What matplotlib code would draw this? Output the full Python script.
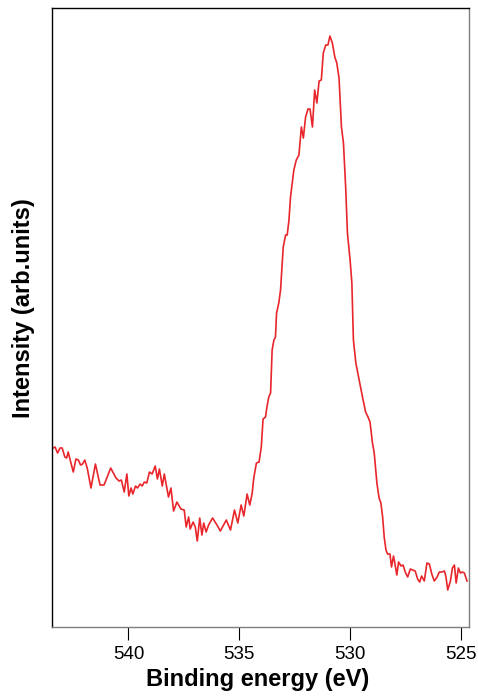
import matplotlib
matplotlib.use("Agg")
import matplotlib.pyplot as plt

# O 1s spectrum
binding_energy = [
    543.41, 543.31, 543.20, 543.09, 542.99, 542.87, 542.79, 542.72, 542.49, 542.37,
    542.26, 542.16, 542.07, 541.97, 541.86, 541.69, 541.49, 541.28, 541.10, 540.80,
    540.56, 540.42, 540.32, 540.19, 540.07, 539.98, 539.88, 539.80, 539.68, 539.59,
    539.47, 539.38, 539.28, 539.17, 539.05, 538.93, 538.79, 538.69, 538.60, 538.47,
    538.38, 538.19, 538.08, 537.96, 537.81, 537.63, 537.48, 537.39, 537.28, 537.21,
    537.08, 536.98, 536.89, 536.78, 536.68, 536.60, 536.49, 536.38, 536.20, 536.00,
    535.85, 535.70, 535.58, 535.39, 535.21, 535.06, 534.91, 534.79, 534.64, 534.52,
    534.41, 534.34, 534.22, 534.10, 534.00, 533.92, 533.81, 533.73, 533.66, 533.58,
    533.51, 533.43, 533.36, 533.31, 533.21, 533.13, 533.01, 532.90, 532.83, 532.75,
    532.68, 532.53, 532.42, 532.30, 532.19, 532.10, 532.00, 531.89, 531.80, 531.69,
    531.59, 531.49, 531.39, 531.29, 531.20, 531.09, 530.99, 530.90, 530.79, 530.68,
    530.59, 530.49, 530.38, 530.29, 530.19, 530.11, 529.99, 529.91, 529.84, 529.73,
    529.58, 529.43, 529.29, 529.18, 529.09, 528.98, 528.90, 528.78, 528.68, 528.60,
    528.52, 528.45, 528.37, 528.30, 528.19, 528.12, 528.03, 527.97, 527.88, 527.80,
    527.69, 527.60, 527.50, 527.39, 527.27, 527.16, 527.05, 526.94, 526.85, 526.76,
    526.64, 526.52, 526.41, 526.30, 526.19, 526.06, 525.96, 525.85, 525.73, 525.66,
    525.58, 525.46, 525.37, 525.28, 525.20, 525.10, 525.01, 524.92, 524.83, 524.71,
]
intensity = [
    179, 180, 174, 179, 179, 170, 169, 175, 155, 168,
    167, 162, 163, 167, 159, 139, 163, 142, 142, 159,
    149, 146, 147, 135, 153, 131, 139, 133, 141, 139,
    143, 141, 145, 144, 155, 153, 161, 148, 158, 141,
    153, 130, 139, 116, 125, 118, 117, 100, 110, 98,
    105, 100, 86, 109, 92, 104, 95, 102, 109, 102,
    96, 102, 107, 97, 117, 104, 122, 111, 133, 122,
    134, 149, 164, 165, 180, 208, 210, 222, 230, 234,
    277, 287, 290, 314, 324, 337, 380, 392, 392, 407,
    430, 457, 467, 472, 500, 489, 510, 518, 518, 500,
    537, 524, 546, 547, 574, 582, 582, 591, 584, 570,
    564, 549, 500, 484, 440, 394, 367, 344, 287, 264,
    247, 230, 215, 210, 205, 184, 174, 144, 129, 124,
    110, 90, 77, 73, 73, 60, 71, 64, 52, 65,
    61, 62, 55, 50, 58, 57, 56, 48, 45, 51,
    46, 64, 63, 53, 46, 50, 55, 55, 56, 50,
    37, 46, 59, 62, 44, 59, 54, 55, 54, 46,
]
xticks = [540, 535, 530, 525]

plt.rcParams['font.family'] = ['Liberation Sans', 'DejaVu Sans']

fig = plt.figure(figsize=(4.78, 6.97), dpi=100)
ax = fig.add_axes([0.1088, 0.1004, 0.8724, 0.8881])

ax.plot(binding_energy, intensity, "-", color="#e8262b", linewidth=1.2)

ax.set_xlim(543.45, 524.62)
ax.set_ylim(0, 619)
ax.set_xticks(xticks)
ax.set_xticklabels([str(t) for t in xticks], fontsize=13.5)
ax.set_yticks([])
ax.tick_params(axis='x', direction='out', length=9, width=0.8, pad=5, color='black')

ax.spines['top'].set_color('black')
ax.spines['left'].set_color('black')
ax.spines['right'].set_color('#7f7f7f')
ax.spines['bottom'].set_color('#7f7f7f')
for s in ax.spines.values():
    s.set_linewidth(1.0)

ax.set_xlabel('Binding energy (eV)', fontsize=17, fontweight='bold', labelpad=3)
ax.set_ylabel('Intensity (arb.units)', fontsize=17, fontweight='bold', labelpad=12)
ax.xaxis.label.set_x(0.492)
ax.yaxis.label.set_y(0.515)

fig.savefig("out.png", dpi=100)
